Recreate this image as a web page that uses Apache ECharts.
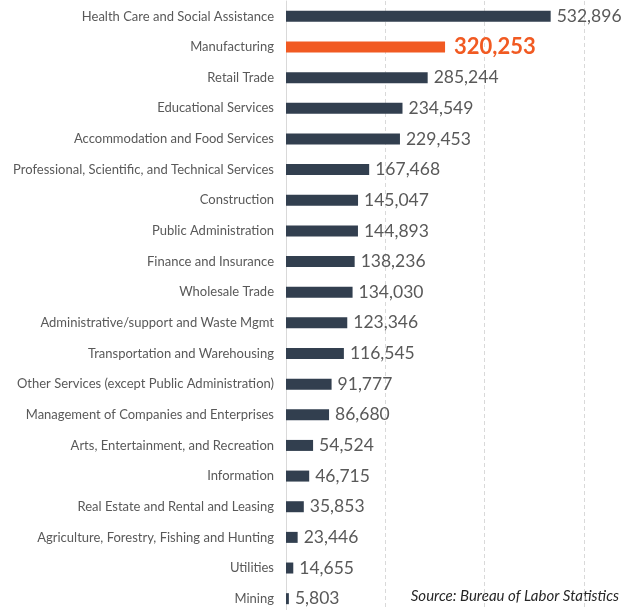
<!DOCTYPE html>
<html>
<head>
<meta charset="utf-8">
<script src="https://cdn.jsdelivr.net/npm/echarts@6/dist/echarts.min.js"></script>
<style>
html,body{margin:0;padding:0;background:#fff;}
#chart{width:626px;height:610px;}
</style>
</head>
<body>
<div id="chart"></div>
<script>
var industries = [
	'Health Care and Social Assistance',
	'Manufacturing',
	'Retail Trade',
	'Educational Services',
	'Accommodation and Food Services',
	'Professional, Scientific, and Technical Services',
	'Construction',
	'Public Administration',
	'Finance and Insurance',
	'Wholesale Trade',
	'Administrative/support and Waste Mgmt',
	'Transportation and Warehousing',
	'Other Services (except Public Administration)',
	'Management of Companies and Enterprises',
	'Arts, Entertainment, and Recreation',
	'Information',
	'Real Estate and Rental and Leasing',
	'Agriculture, Forestry, Fishing and Hunting',
	'Utilities',
	'Mining'
];
var establishments = [532896, 320253, 285244, 234549, 229453, 167468, 145047, 144893, 138236, 134030,
	123346, 116545, 91777, 86680, 54524, 46715, 35853, 23446, 14655, 5803];
var highlight = 'Manufacturing';

var FONT = 'Lato';

// 高亮制造业那一条
var barData = [];
for (var i = 0; i < industries.length; i++) {
	if (industries[i] == highlight) {
		barData.push({
			value: establishments[i],
			itemStyle: {color: '#f15a22'},
			label: {color: '#f15a22', fontSize: 22, fontWeight: 'bold', distance: 9}
		});
	} else {
		barData.push(establishments[i]);
	}
}

var option = {
	animation: false,
	textStyle: {fontFamily: FONT},
	grid: {left: 286, right: 42, top: 1, height: 613, outerBoundsMode: 'none', containLabel: false},
	xAxis: {
		type: 'value',
		min: 0,
		max: 600000,
		interval: 200000,
		axisLabel: {show: false},
		axisLine: {show: false},
		axisTick: {show: false},
		splitLine: {lineStyle: {color: '#d9d9d9', type: [4, 3], width: 1}}
	},
	yAxis: {
		type: 'category',
		inverse: true,
		data: industries,
		axisTick: {show: false},
		axisLine: {lineStyle: {color: '#d9d9d9', width: 1}},
		axisLabel: {color: '#595959', fontSize: 13, margin: 12, fontFamily: FONT}
	},
	series: [{
		type: 'bar',
		data: barData,
		barWidth: 11,
		itemStyle: {color: '#323f4f'},
		label: {
			show: true,
			position: 'right',
			distance: 6,
			color: '#595959',
			fontSize: 17.5,
			fontFamily: FONT,
			formatter: function (p) { return p.value.toLocaleString('en-US'); }
		}
	}],
	graphic: [{
		type: 'text',
		right: 7,
		top: 589,
		style: {
			text: 'Source: Bureau of Labor Statistics',
			fontFamily: FONT,
			fontStyle: 'italic',
			fontSize: 15,
			fill: '#262626'
		}
	}]
};

var myChart = echarts.init(document.getElementById('chart'));
myChart.setOption(option);
</script>
</body>
</html>
